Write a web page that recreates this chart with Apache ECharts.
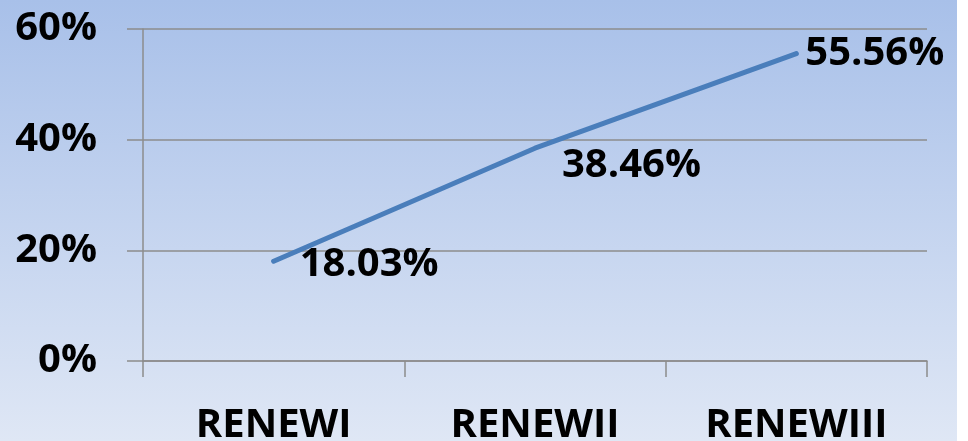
<!DOCTYPE html>
<html>
<head>
<meta charset="utf-8">
<script src="https://cdn.jsdelivr.net/npm/echarts@6/dist/echarts.min.js"></script>
<style>
html,body{margin:0;padding:0;background:#fff;}
#c{width:957px;height:441px;background:linear-gradient(to bottom,#a8c0e9 0%,#dfe7f5 100%);}
</style>
</head>
<body>
<div id="c"></div>
<script>
const categories = ['RENEWI', 'RENEWII', 'RENEWIII'];
const values = [0.1803, 0.3846, 0.5556];
const yTicks = [0, 0.2, 0.4, 0.6];

const labelPos = [
  {distance: 24, offset: [0, 3]},
  {distance: 25, offset: [0, 17]},
  {distance: 7, offset: [0, 0]}
];

const font = '"Open Sans", "Liberation Sans", sans-serif';
const chart = echarts.init(document.getElementById('c'), null, {renderer: 'canvas'});
chart.setOption({
  backgroundColor: 'transparent',
  animation: false,
  grid: {left: 143, right: 30, top: 29, bottom: 80, containLabel: false, outerBoundsMode: 'none'},
  xAxis: {
    type: 'category',
    data: categories,
    boundaryGap: true,
    axisLine: {show: true, lineStyle: {color: '#8c8c8c', width: 1.5}},
    axisTick: {show: true, length: 16, interval: 0, lineStyle: {color: '#8c8c8c', width: 1.5}},
    axisLabel: {color: '#000', fontFamily: font, fontWeight: 'bold', fontSize: 40, margin: 45, interval: 0}
  },
  yAxis: {
    type: 'value',
    min: yTicks[0],
    max: yTicks[yTicks.length - 1],
    interval: 0.2,
    axisLine: {show: true, lineStyle: {color: '#8c8c8c', width: 1.5}},
    axisTick: {show: true, length: 16, lineStyle: {color: '#8c8c8c', width: 1.5}},
    splitLine: {show: true, lineStyle: {color: '#8c8c8c', width: 1.5}},
    axisLabel: {color: '#000', fontFamily: font, fontWeight: 'bold', fontSize: 40, margin: 46,
      formatter: v => Math.round(v * 100) + '%'}
  },
  series: [{
    type: 'line',
    data: values.map((v, i) => ({
      value: v,
      label: {show: true, position: 'right', distance: labelPos[i].distance, offset: labelPos[i].offset}
    })),
    showSymbol: true,
    symbol: 'circle',
    symbolSize: 4,
    itemStyle: {color: '#4a7ebb'},
    lineStyle: {color: '#4a7ebb', width: 5, cap: 'round'},
    label: {
      show: true,
      color: '#000',
      fontFamily: font,
      fontWeight: 'bold',
      fontSize: 40,
      formatter: p => (p.value * 100).toFixed(2) + '%'
    }
  }]
});
</script>
</body>
</html>
